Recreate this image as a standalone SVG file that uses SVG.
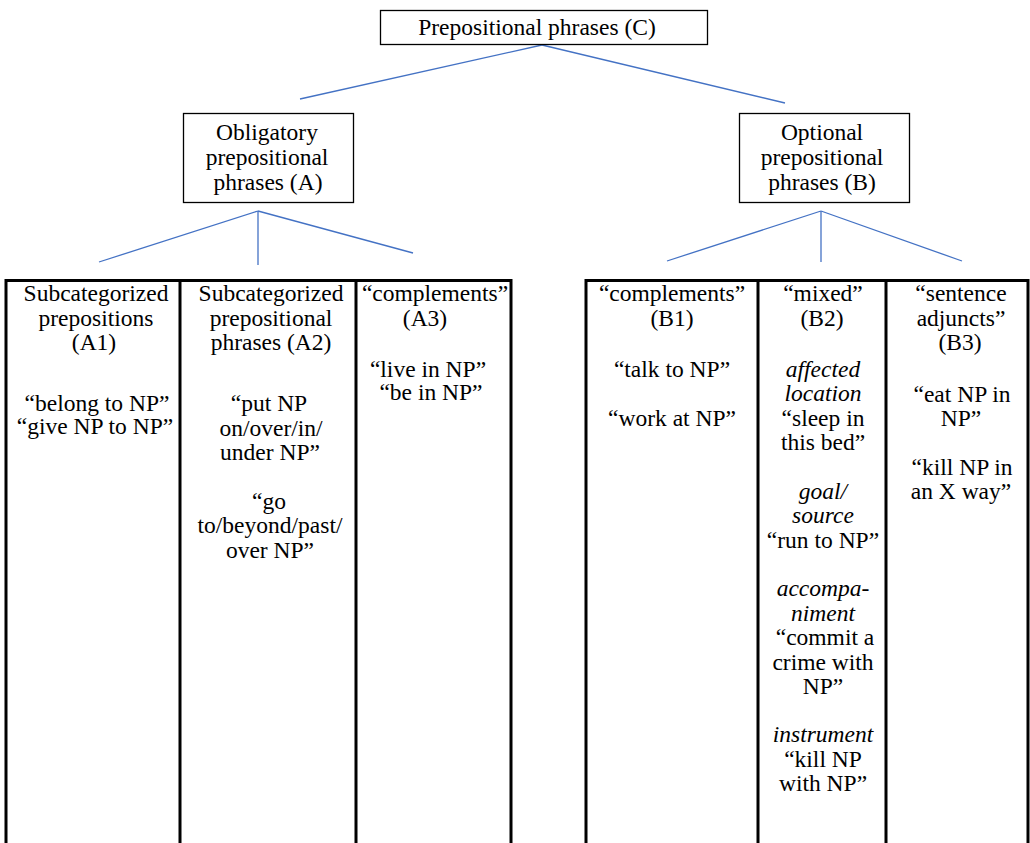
<svg xmlns="http://www.w3.org/2000/svg" width="1030" height="843" viewBox="0 0 1030 843">
<style>
text{font-family:"Liberation Serif","Times New Roman",serif;font-size:23.5px;fill:#000;text-anchor:middle}
.i{font-style:italic}
.box{fill:#fff;stroke:#000;stroke-width:1.3}
.conn{stroke:#4472C4;stroke-width:1.3;fill:none}
.grid{stroke:#000;stroke-width:3;fill:none}
</style>
<rect width="1030" height="843" fill="#fff"/>
<g id="connectors">
<line class="conn" x1="542" y1="45" x2="300" y2="99"/>
<line class="conn" x1="542" y1="45" x2="785" y2="103"/>
<line class="conn" x1="258" y1="211" x2="99" y2="262"/>
<line class="conn" x1="258" y1="211" x2="258" y2="265"/>
<line class="conn" x1="258" y1="211" x2="413" y2="253"/>
<line class="conn" x1="821" y1="211" x2="667" y2="261"/>
<line class="conn" x1="821" y1="211" x2="821" y2="262"/>
<line class="conn" x1="821" y1="211" x2="962" y2="261"/>
</g>
<g id="nodeC">
<rect class="box" x="380.5" y="10.5" width="327" height="34"/>
<text x="537" y="35">Prepositional phrases (C)</text>
</g>
<g id="nodeA">
<rect class="box" x="183.5" y="113.5" width="170" height="89"/>
<text x="267" y="140">Obligatory</text>
<text x="267" y="165">prepositional</text>
<text x="268" y="190">phrases (A)</text>
</g>
<g id="nodeB">
<rect class="box" x="739.5" y="113.5" width="170" height="89"/>
<text x="822" y="140">Optional</text>
<text x="822" y="165">prepositional</text>
<text x="822" y="190">phrases (B)</text>
</g>
<g id="tableA">
<path class="grid" d="M4.5 280.5H512.5M6 280V843M180 280V843M356 280V843M511 280V843"/>
</g>
<g id="tableB">
<path class="grid" d="M584.5 280.5H1029.5M586 280V843M758 280V843M886 280V843M1028 280V843"/>
</g>
<g id="A1">
<text x="96" y="301">Subcategorized</text>
<text x="96" y="326">prepositions</text>
<text x="94" y="350">(A1)</text>
<text x="97" y="411">“belong to NP”</text>
<text x="95" y="434">“give NP to NP”</text>
</g>
<g id="A2">
<text x="271" y="301">Subcategorized</text>
<text x="271" y="326">prepositional</text>
<text x="271" y="350">phrases (A2)</text>
<text x="269" y="411">“put NP</text>
<text x="271" y="436">on/over/in/</text>
<text x="270" y="460">under NP”</text>
<text x="269" y="509">“go</text>
<text x="270" y="533">to/beyond/past/</text>
<text x="270" y="558">over NP”</text>
</g>
<g id="A3">
<text x="435" y="301">“complements”</text>
<text x="425" y="326">(A3)</text>
<text x="428" y="377">“live in NP”</text>
<text x="431" y="400">“be in NP”</text>
</g>
<g id="B1">
<text x="672" y="301">“complements”</text>
<text x="672" y="326">(B1)</text>
<text x="672" y="377">“talk to NP”</text>
<text x="672" y="426">“work at NP”</text>
</g>
<g id="B2">
<text x="823" y="301">“mixed”</text>
<text x="822" y="326">(B2)</text>
<text class="i" x="823" y="377">affected</text>
<text class="i" x="823" y="401">location</text>
<text x="823" y="426">“sleep in</text>
<text x="823" y="450">this bed”</text>
<text class="i" x="823" y="499">goal/</text>
<text class="i" x="823" y="523">source</text>
<text x="823" y="548">“run to NP”</text>
<text class="i" x="823" y="596">accompa-</text>
<text class="i" x="823" y="621">niment</text>
<text x="825" y="645">“commit a</text>
<text x="823" y="670">crime with</text>
<text x="823" y="694">NP”</text>
<text class="i" x="823" y="742">instrument</text>
<text x="823" y="767">“kill NP</text>
<text x="823" y="791">with NP”</text>
</g>
<g id="B3">
<text x="961" y="301">“sentence</text>
<text x="961" y="326">adjuncts”</text>
<text x="960" y="350">(B3)</text>
<text x="962" y="402">“eat NP in</text>
<text x="961" y="426">NP”</text>
<text x="962" y="475">“kill NP in</text>
<text x="961" y="499">an X way”</text>
</g>
</svg>
